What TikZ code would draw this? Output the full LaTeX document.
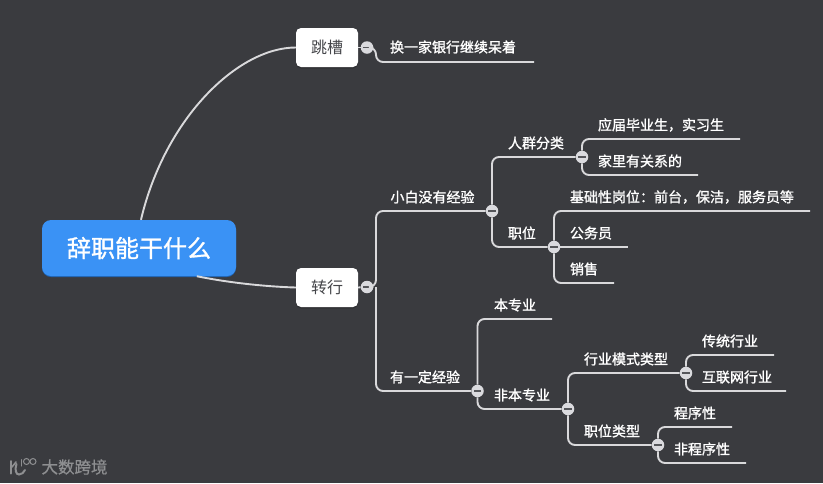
\documentclass[tikz,border=0pt]{standalone}
\usepackage{fontspec}
\setmainfont{Noto Sans CJK SC}[BoldFont={Noto Sans CJK SC Bold}]
\newfontfamily\lblfont{Noto Sans CJK SC}[FakeBold=1.3]
\newfontfamily\wmfont{Noto Sans CJK SC}[FakeBold=0.8]
\usetikzlibrary{calc}
\definecolor{bgc}{HTML}{3A3B3F}
\definecolor{linec}{HTML}{D9D9DB}
\definecolor{rootc}{HTML}{3A92F5}
\definecolor{rootd}{HTML}{1F62B0}
\definecolor{dotc}{HTML}{DADADE}
\definecolor{minusc}{HTML}{55565A}
\definecolor{ntext}{HTML}{45464A}
\definecolor{wm}{HTML}{8E8F91}
\tikzset{
  x=1pt,y=-1pt,
  link/.style={draw=linec,line width=1.9pt,rounded corners=7pt},
  curve/.style={draw=linec,line width=1.9pt},
  rootbox/.style={fill=rootc,rounded corners=9pt,minimum width=194pt,minimum height=56pt,inner sep=0pt,text=white,font=\lblfont\fontsize{24}{26}\selectfont},
  topicbox/.style={fill=white,rounded corners=5pt,minimum width=62pt,minimum height=39pt,inner sep=0pt,text=ntext,font=\fontsize{16}{18}\selectfont},
  lbl/.style={inner sep=0pt,anchor=center,text=white,font=\lblfont\fontsize{14}{16}\selectfont},
  dot/.style={circle,fill=dotc,minimum size=12.5pt,inner sep=0pt,path picture={\fill[minusc] ($(path picture bounding box.center)+(-3.6,-0.9)$) rectangle ($(path picture bounding box.center)+(3.6,0.9)$);}},
}
\begin{document}
\begin{tikzpicture}
\useasboundingbox (0,0) rectangle (823,483);
\fill[bgc] (0,0) rectangle (823,483);
% root and topics
\fill[rootd] (42,222) [rounded corners=9pt] rectangle (236,277);
\node[rootbox] (root) at (139,248) {辞职能干什么};
\fill[black,opacity=.18,rounded corners=5pt] (296,30) rectangle (358,68.5);
\fill[black,opacity=.18,rounded corners=5pt] (296,270) rectangle (358,308.5);
\node[topicbox] (jump) at (327,47.5) {跳槽};
\node[topicbox] (change) at (327,287.5) {转行};
% collapse dots
\node[dot] (d1) at (367,47.5) {};
\node[dot] (d2) at (367,287) {};
\node[dot] (d3) at (492,211) {};
\node[dot] (d4) at (582,157) {};
\node[dot] (d5) at (554,247) {};
\node[dot] (d6) at (477.5,391) {};
\node[dot] (d7) at (568,409) {};
\node[dot] (d8) at (686,373) {};
\node[dot] (d9) at (658,445) {};
% branch bends and leaf ends
\coordinate (j1) at (376,47.5);
\coordinate (j2) at (376,287);
\coordinate (e1) at (534,62);
\coordinate (e2) at (740,139);
\coordinate (e3) at (698,175);
\coordinate (e4) at (810,211);
\coordinate (e5) at (628,247);
\coordinate (e6) at (614,283);
\coordinate (e7) at (552,319);
\coordinate (e8) at (774,355);
\coordinate (e9) at (786,391);
\coordinate (e10) at (732,427);
\coordinate (e11) at (746,463);
% connectors
\draw[curve] (root.86) .. controls (165,118) and (238,47.5) .. (jump.west);
\draw[curve] (root.-26.2) .. controls (225,282) and (262,286.5) .. (change.west);
\draw[link] (jump.east) -- (d1);
\draw[link] (change.east) -- (d2);
\draw[link] (d1.east) -- (j1) |- (e1);
\draw[link] (d2.east) -- (j2) |- (d3.west);
\draw[link] (j2) |- (d6.west);
\draw[link] (d3.north) |- (d4.west);
\draw[link] (d3.south) |- (d5.west);
\draw[link] (d4.north) |- (e2);
\draw[link] (d4.south) |- (e3);
\draw[link] (d5.north) |- (e4);
\draw[link] (d5.east) -- (e5);
\draw[link] (d5.south) |- (e6);
\draw[link] (d6.north) |- (e7);
\draw[link] (d6.south) |- (d7.west);
\draw[link] (d7.north) |- (d8.west);
\draw[link] (d7.south) |- (d9.west);
\draw[link] (d8.north) |- (e8);
\draw[link] (d8.south) |- (e9);
\draw[link] (d9.north) |- (e10);
\draw[link] (d9.south) |- (e11);
% labels
\node[lbl] (t1) at (453,47) {换一家银行继续呆着};
\node[lbl] (t2) at (432.5,197) {小白没有经验};
\node[lbl] (t3) at (536,143) {人群分类};
\node[lbl] (t4) at (522,233) {职位};
\node[lbl] (t5) at (661,125) {应届毕业生，实习生};
\node[lbl] (t6) at (640,161) {家里有关系的};
\node[lbl] (t7) at (682,197) {基础性岗位：前台，保洁，服务员等};
\node[lbl] (t8) at (591,233) {公务员};
\node[lbl] (t9) at (584,269) {销售};
\node[lbl] (t10) at (425,377) {有一定经验};
\node[lbl] (t11) at (515,305) {本专业};
\node[lbl] (t12) at (522,395) {非本专业};
\node[lbl] (t13) at (626,359) {行业模式类型};
\node[lbl] (t14) at (612,431) {职位类型};
\node[lbl] (t15) at (730,341) {传统行业};
\node[lbl] (t16) at (737,377) {互联网行业};
\node[lbl] (t17) at (695,413) {程序性};
\node[lbl] (t18) at (702,449) {非程序性};
% watermark
\node[inner sep=0pt,text=wm,font=\wmfont\fontsize{16.5}{18}\selectfont] (wmark) at (74.5,467) {大数跨境};
\draw[wm,line width=2pt,line cap=round] (11,461) -- (11,473.5);
\draw[wm,line width=1.6pt,line cap=round] (12,467) -- (16,462);
\draw[wm,line width=2pt,line cap=round] (16.5,464) .. controls (14.5,470) and (16,474.5) .. (19,474.5) .. controls (21.5,474.5) and (24,472.5) .. (25,470);
\draw[wm,line width=1pt,line cap=round] (21,459.5) -- (21,466);
\draw[wm,line width=1pt] (26.5,461.5) circle (3);
\draw[wm,line width=1pt] (33,461.5) circle (3);
\end{tikzpicture}
\end{document}
